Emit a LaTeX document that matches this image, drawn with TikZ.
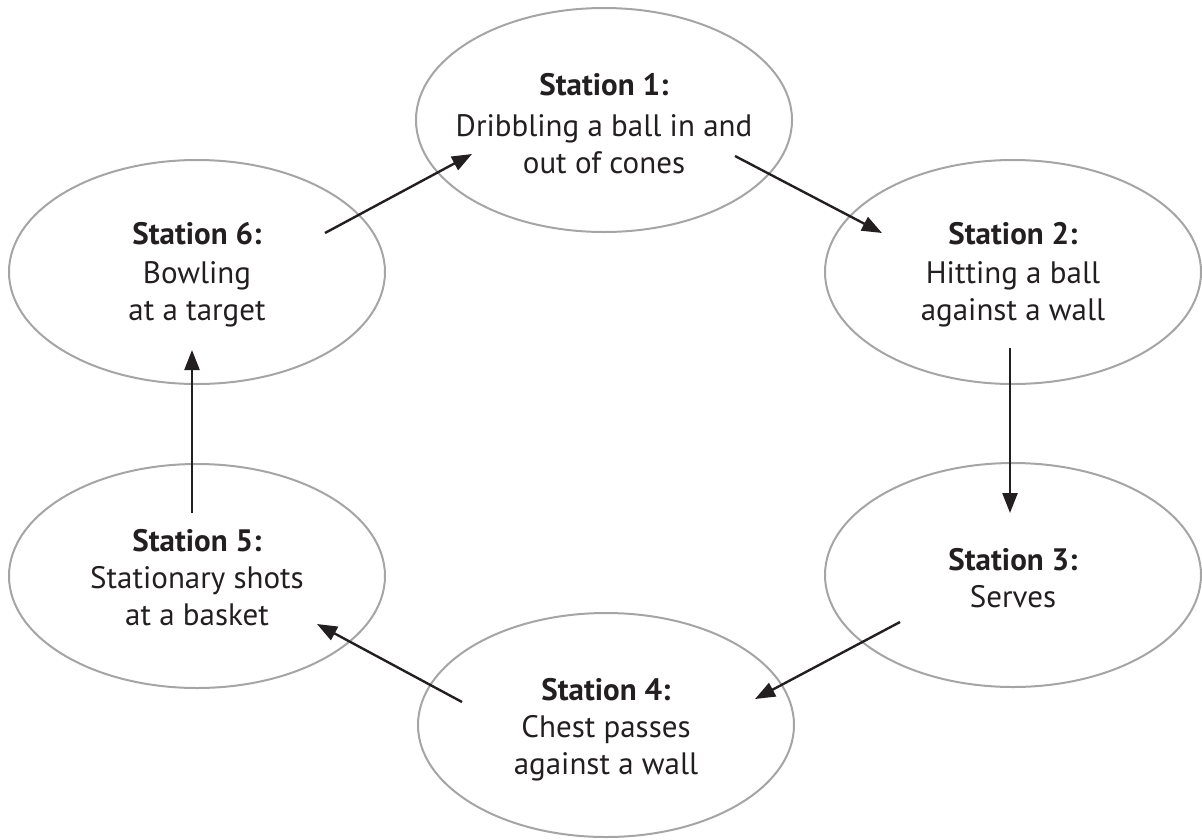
\documentclass[tikz,border=0pt]{standalone}
\usepackage{fontspec}
\setmainfont{PT Sans}
\usetikzlibrary{shapes.geometric,arrows.meta}
\definecolor{ringgrey}{RGB}{165,165,165}
\definecolor{inkblack}{RGB}{35,31,32}
\tikzset{
  station/.style={draw=ringgrey, line width=2pt, ellipse, minimum width=376pt, minimum height=224pt, inner sep=0pt},
  stext/.style={align=center, text=inkblack, font=\fontsize{31}{37}\selectfont, inner sep=0pt},
  arr/.style={draw=inkblack, line width=2.4pt, -{Triangle[length=20pt,width=15pt]}}
}
\begin{document}
\begin{tikzpicture}[x=1pt,y=-1pt]
\useasboundingbox (0,0) rectangle (1202,839);
\node[station] (s1) at (604,120) {};
\node[station] (s2) at (1013,272) {};
\node[station] (s3) at (1013,575) {};
\node[station] (s4) at (606,725) {};
\node[station] (s5) at (197,576) {};
\node[station] (s6) at (197,272) {};
\node[stext] (t1) at ([shift={(0,4)}]s1.center) {\textbf{Station 1:}\\[4pt]Dribbling a ball in and\\out of cones};
\node[stext] (t2) at ([shift={(0,3)}]s2.center) {\textbf{Station 2:}\\[2pt]Hitting a ball\\against a wall};
\node[stext] (t3) at ([shift={(0,3)}]s3.center) {\textbf{Station 3:}\\Serves};
\node[stext] (t4) at ([shift={(0,5)}]s4.center) {\textbf{Station 4:}\\Chest passes\\against a wall};
\node[stext] (t5) at ([shift={(0,2)}]s5.center) {\textbf{Station 5:}\\Stationary shots\\at a basket};
\node[stext] (t6) at ([shift={(0,3)}]s6.center) {\textbf{Station 6:}\\[2pt]Bowling\\at a target};
\draw[arr] ([shift={(128,-39)}]s6.center) -- ([shift={(-132,34)}]s1.center);
\draw[arr] ([shift={(131,36)}]s1.center) -- ([shift={(-131,-39)}]s2.center);
\draw[arr] ([shift={(-3,76)}]s2.center) -- ([shift={(-3,-62)}]s3.center);
\draw[arr] ([shift={(-113,47)}]s3.center) -- ([shift={(149,-26)}]s4.center);
\draw[arr] ([shift={(-144,-23)}]s4.center) -- ([shift={(120,48)}]s5.center);
\draw[arr] ([shift={(-5,-63)}]s5.center) -- ([shift={(-5,78)}]s6.center);
\end{tikzpicture}
\end{document}
